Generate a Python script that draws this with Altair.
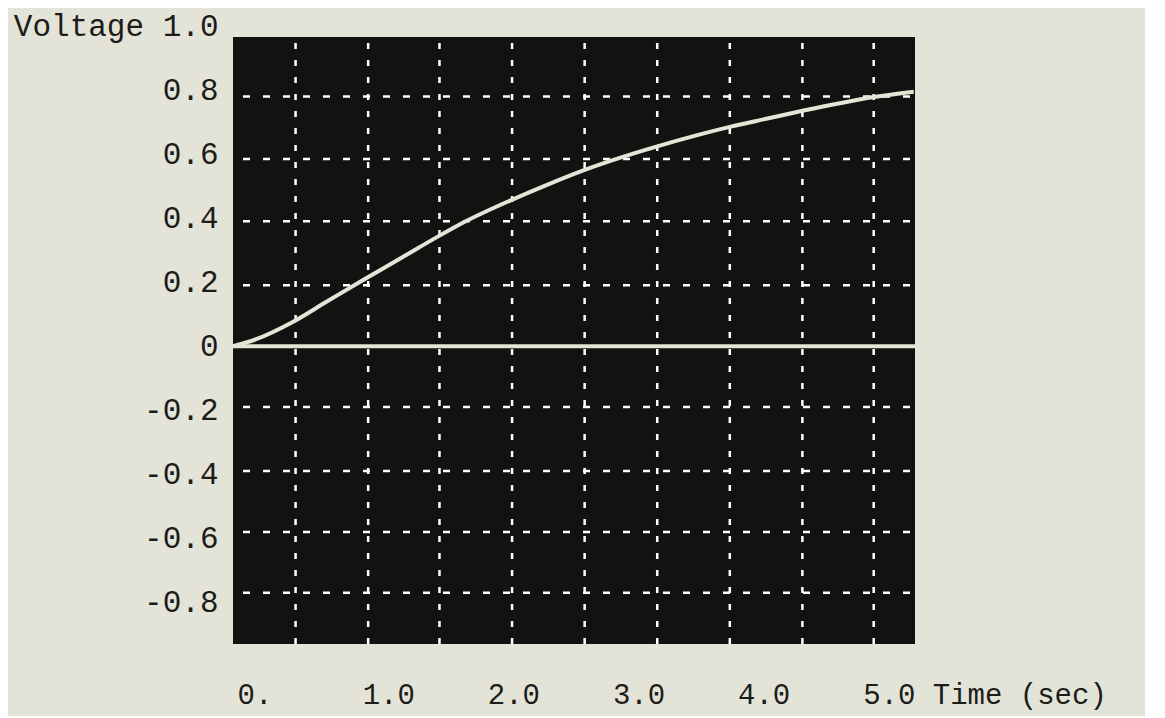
import altair as alt
import pandas as pd

# ---- data ----
time_s = [0.0, 0.18, 0.47, 0.74, 1.04, 1.35, 1.64, 1.86, 2.21, 2.51, 2.80, 3.09,
          3.39, 3.68, 3.97, 4.27, 4.56, 4.85, 5.12, 5.44]
voltage = [0.0, 0.021, 0.074, 0.137, 0.207, 0.277, 0.343, 0.39, 0.454, 0.504, 0.549, 0.588,
           0.624, 0.656, 0.685, 0.711, 0.736, 0.759, 0.778, 0.795]

x_ticks = [0, 1, 2, 3, 4, 5]
x_tick_labels = ["0.", "1.0", "2.0", "3.0", "4.0", "5.0 Time (sec)"]
y_ticks = [-0.8, -0.6, -0.4, -0.2, 0, 0.2, 0.4, 0.6, 0.8, 1.0]
y_tick_labels = ["-0.8", "-0.6", "-0.4", "-0.2", "0", "0.2", "0.4", "0.6", "0.8", "Voltage 1.0"]

grid_t = [0.50, 1.08, 1.65, 2.23, 2.81, 3.39, 3.97, 4.55, 5.12]
grid_v = [0.78, 0.585, 0.39, 0.19, -0.19, -0.39, -0.58, -0.77]

panel_t = [0.0, 5.45]
panel_v = [-0.93, 0.966]
x_domain = [0.0, 5.45]
y_domain = [-0.93, 1.0]

FONT = "Courier New, Courier, Nimbus Mono PS, Liberation Mono, monospace"
INK = "#1c1c1a"
TRACE = "#e6e4d6"


def label_expr(values, labels):
    expr = "''"
    for v, lab in reversed(list(zip(values, labels))):
        expr = f"abs(datum.value - ({v})) < 1e-6 ? '{lab}' : ({expr})"
    return expr


xs = alt.Scale(domain=x_domain, nice=False, zero=False)
ys = alt.Scale(domain=y_domain, nice=False, zero=False)

x_axis = alt.Axis(values=x_ticks, labelExpr=label_expr(x_ticks, x_tick_labels),
                  grid=False, domain=False, ticks=False, tickSize=0,
                  labelAlign="left", labelBaseline="top", labelPadding=36,
                  labelFlush=False, labelOverlap=False, labelFont=FONT, labelLimit=0,
                  labelFontSize=29, labelColor=INK, labelOffset=4, title=None)
y_axis = alt.Axis(values=y_ticks, labelExpr=label_expr(y_ticks, y_tick_labels),
                  grid=False, domain=False, ticks=False, tickSize=0,
                  labelAlign="right", labelBaseline="middle", labelPadding=15,
                  labelFlush=False, labelOverlap=False, labelFont=FONT, labelLimit=0,
                  labelFontSize=31, labelColor=INK, title=None)

panel_df = pd.DataFrame({"t0": [panel_t[0]], "t1": [panel_t[1]],
                         "v0": [panel_v[0]], "v1": [panel_v[1]]})
panel = alt.Chart(panel_df).mark_rect(color="#121210").encode(
    x=alt.X("t0:Q", scale=xs, axis=x_axis, title=None),
    x2="t1:Q",
    y=alt.Y("v0:Q", scale=ys, axis=y_axis, title=None),
    y2="v1:Q",
)

hgrid_df = pd.DataFrame({"v": grid_v, "t0": panel_t[0], "t1": panel_t[1]})
hgrid = alt.Chart(hgrid_df).mark_rule(color="white", strokeWidth=2.5,
                                      strokeDash=[7, 13], strokeDashOffset=-10).encode(
    y=alt.Y("v:Q", scale=ys, axis=y_axis, title=None),
    x=alt.X("t0:Q", scale=xs, axis=x_axis, title=None),
    x2="t1:Q",
)

vgrid_df = pd.DataFrame({"t": grid_t, "v0": panel_v[0], "v1": panel_v[1]})
vgrid = alt.Chart(vgrid_df).mark_rule(color="white", strokeWidth=2.5,
                                      strokeDash=[6, 11]).encode(
    x=alt.X("t:Q", scale=xs, axis=x_axis, title=None),
    y=alt.Y("v0:Q", scale=ys, axis=y_axis, title=None),
    y2="v1:Q",
)

zero_df = pd.DataFrame({"v": [0.0], "t0": [panel_t[0]], "t1": [panel_t[1]]})
zero = alt.Chart(zero_df).mark_rule(color=TRACE, strokeWidth=4).encode(
    y=alt.Y("v:Q", scale=ys, axis=y_axis, title=None),
    x=alt.X("t0:Q", scale=xs, axis=x_axis, title=None),
    x2="t1:Q",
)

curve_df = pd.DataFrame({"t": time_s, "v": voltage})
curve = alt.Chart(curve_df).mark_line(color=TRACE, strokeWidth=4,
                                      interpolate="monotone").encode(
    x=alt.X("t:Q", scale=xs, axis=x_axis, title=None),
    y=alt.Y("v:Q", scale=ys, axis=y_axis, title=None),
)

chart = alt.layer(panel, vgrid, hgrid, zero, curve).properties(
    width=682, height=618,
    autosize=alt.AutoSizeParams(type="none"),
    padding={"left": 225, "top": 18, "right": 230, "bottom": 72},
).configure(background="#e4e3d7").configure_view(stroke=None)

chart.save("out.html", embed_options={"renderer": "svg", "actions": False})
